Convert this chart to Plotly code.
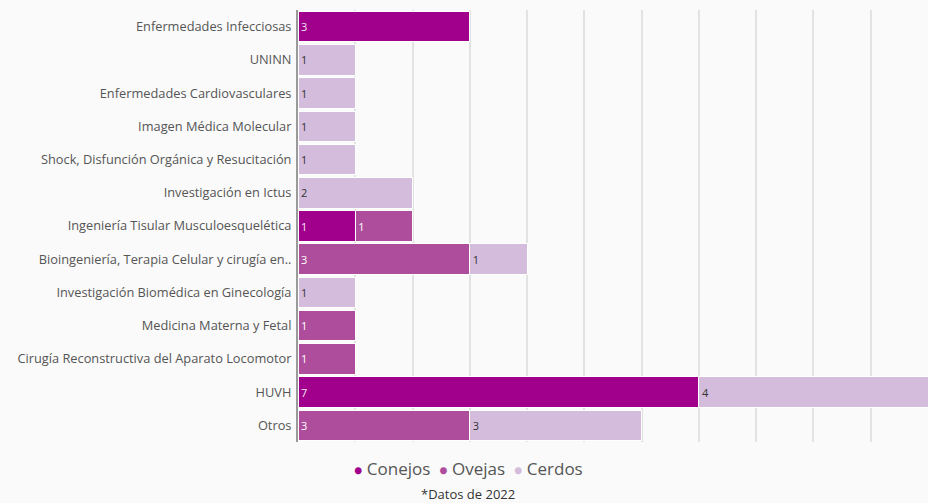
import plotly.graph_objects as go

categories = [
    "Enfermedades Infecciosas",
    "UNINN",
    "Enfermedades Cardiovasculares",
    "Imagen Médica Molecular",
    "Shock, Disfunción Orgánica y Resucitación",
    "Investigación en Ictus",
    "Ingeniería Tisular Musculoesquelética",
    "Bioingeniería, Terapia Celular y cirugía en..",
    "Investigación Biomédica en Ginecología",
    "Medicina Materna y Fetal",
    "Cirugía Reconstructiva del Aparato Locomotor",
    "HUVH",
    "Otros",
]
conejos = [3, None, None, None, None, None, 1, None, None, None, None, 7, None]
ovejas = [None, None, None, None, None, None, 1, 3, None, 1, 1, None, 3]
cerdos = [None, 1, 1, 1, 1, 2, None, 1, 1, None, None, 4, 3]

series = [
    ("Conejos", conejos, "#a1008c", "#f4e6f2"),
    ("Ovejas", ovejas, "#ae4d9c", "#ffffff"),
    ("Cerdos", cerdos, "#d4bcdc", "#333333"),
]

FONT = "'Open Sans', Lato, sans-serif"

fig = go.Figure()
for name, vals, color, tcolor in series:
    fig.add_trace(go.Bar(
        y=categories, x=vals, name=name, orientation="h",
        marker=dict(color=color, line=dict(color="#ffffff", width=1)),
        text=[("" if v is None else str(v)) for v in vals],
        textposition="inside", insidetextanchor="start",
        textfont=dict(color=tcolor, size=11, family=FONT),
        constraintext="none",
        showlegend=False, hoverinfo="x+y+name",
    ))

# legend drawn as a centered line of coloured bullets + names
legend_html = "&nbsp;&nbsp;".join(
    f"<span style='color:{color};font-size:14px'>●</span> {name}"
    for name, _, color, _ in series
)

fig.update_layout(
    width=928, height=503,
    barmode="stack", bargap=0.08,
    paper_bgcolor="#fafafa", plot_bgcolor="#fafafa",
    margin=dict(l=298, r=0, t=10, b=61),
    font=dict(family=FONT, color="#555555", size=12),
    showlegend=False,
    xaxis=dict(range=[0, 11], dtick=1, showticklabels=False,
               showgrid=True, gridcolor="#e2e2e2", gridwidth=1.5,
               zeroline=False, fixedrange=True),
    yaxis=dict(autorange="reversed", showline=True, linecolor="#9a9a9a",
               linewidth=2, ticks="", ticklabelstandoff=2,
               tickfont=dict(size=12.8, color="#555555")),
    annotations=[
        dict(text=legend_html, xref="paper", yref="paper",
             x=(468 - 298) / 630, y=-(468 - 442) / 432, xanchor="center",
             yanchor="middle", showarrow=False,
             font=dict(size=17, color="#555555")),
        dict(text="*Datos de 2022", xref="paper", yref="paper",
             x=(468 - 298) / 630, y=-(494 - 442) / 432, xanchor="center",
             yanchor="middle", showarrow=False,
             font=dict(size=13, color="#333333")),
    ],
)

fig.write_html("out.html", config={"displayModeBar": False},
               post_script="document.body.style.margin='0';")
